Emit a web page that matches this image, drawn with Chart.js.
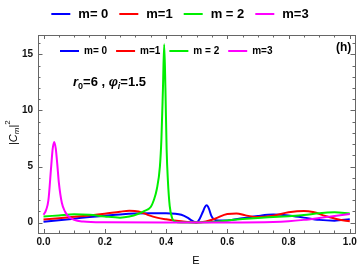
<!DOCTYPE html>
<html>
<head>
<meta charset="utf-8">
<script src="https://cdn.jsdelivr.net/npm/chart.js@4.4.1/dist/chart.umd.min.js"></script>
<style>
html,body{margin:0;padding:0;background:#fff;}
#wrap{width:360px;height:268px;}
</style>
</head>
<body>
<div id="wrap"><canvas id="c" width="360" height="268"></canvas></div>
<script>
// ---- data ----
const seriesNames = ['m= 0', 'm=1', 'm = 2', 'm=3'];
const seriesColors = ['#0000ff', '#ff0000', '#00ee00', '#ff00ff'];

const E0 = [0, 0.05, 0.1, 0.15, 0.2, 0.25, 0.3, 0.35, 0.4, 0.43, 0.45, 0.47, 0.485, 0.5, 0.51, 0.52, 0.527, 0.533, 0.54, 0.548, 0.556, 0.57, 0.6, 0.65, 0.7, 0.75, 0.8, 0.85, 0.9, 0.95, 1.0];
const V0 = [0.08, 0.22, 0.36, 0.5, 0.62, 0.74, 0.82, 0.84, 0.84, 0.8, 0.7, 0.45, 0.18, 0.02, 0.35, 0.95, 1.4, 1.55, 1.25, 0.6, 0.3, 0.2, 0.2, 0.4, 0.6, 0.72, 0.65, 0.45, 0.25, 0.18, 0.3];

const E1 = [0, 0.05, 0.1, 0.15, 0.2, 0.25, 0.28, 0.31, 0.34, 0.37, 0.4, 0.45, 0.5, 0.53, 0.56, 0.6, 0.63, 0.66, 0.7, 0.75, 0.8, 0.85, 0.88, 0.92, 0.96, 1.0];
const V1 = [0.28, 0.4, 0.52, 0.65, 0.8, 0.98, 1.06, 1.0, 0.7, 0.45, 0.3, 0.12, 0.02, 0.1, 0.35, 0.78, 0.82, 0.65, 0.5, 0.62, 0.92, 1.05, 0.95, 0.6, 0.3, 0.12];

const E2 = [0, 0.05, 0.1, 0.15, 0.2, 0.25, 0.28, 0.31, 0.33, 0.35, 0.36, 0.37, 0.38, 0.385, 0.39, 0.394, 0.398, 0.402, 0.406, 0.412, 0.42, 0.43, 0.45, 0.5, 0.55, 0.6, 0.65, 0.7, 0.75, 0.8, 0.85, 0.9, 0.95, 1.0];
const V2 = [0.55, 0.65, 0.75, 0.7, 0.55, 0.45, 0.55, 0.8, 1.05, 1.4, 2.0, 3.0, 5.0, 7.5, 12, 15.9, 12, 6.5, 3.8, 1.5, 0.4, 0.1, 0.02, 0.01, 0.05, 0.2, 0.32, 0.42, 0.5, 0.58, 0.68, 0.85, 0.92, 0.82];

const E3 = [0, 0.008, 0.016, 0.025, 0.03, 0.035, 0.04, 0.045, 0.05, 0.06, 0.07, 0.08, 0.1, 0.13, 0.2, 0.4, 0.6, 0.75, 0.8, 0.85, 0.9, 0.95, 1.0];
const V3 = [0.7, 1.1, 2.0, 5.0, 6.6, 7.2, 6.6, 5.2, 3.6, 1.75, 1.0, 0.6, 0.25, 0.1, 0.03, 0.01, 0.01, 0.05, 0.12, 0.25, 0.42, 0.6, 0.78];

const xTicks = [0, 0.2, 0.4, 0.6, 0.8, 1.0];
const yTicks = [0, 5, 10, 15];

const Es = [E0, E1, E2, E3];
const Vs = [V0, V1, V2, V3];

const datasets = seriesNames.map((name, i) => ({
  label: name,
  data: Es[i].map((e, k) => ({x: e, y: Vs[i][k]})),
  borderColor: seriesColors[i],
  backgroundColor: seriesColors[i],
  borderWidth: 2,
  pointRadius: 0,
  showLine: true,
  cubicInterpolationMode: 'monotone',
  order: 3 - i
}));

const FONT = '"Liberation Sans", Arial, sans-serif';

function drawLegend(ctx, x, y, fontPx, lineLen, gapLT, gapItem) {
  ctx.save();
  ctx.font = 'bold ' + fontPx + 'px ' + FONT;
  ctx.textBaseline = 'middle';
  ctx.textAlign = 'left';
  let cx = x;
  seriesNames.forEach((n, i) => {
    ctx.strokeStyle = seriesColors[i];
    ctx.lineWidth = 2;
    ctx.beginPath();
    ctx.moveTo(cx, y);
    ctx.lineTo(cx + lineLen, y);
    ctx.stroke();
    cx += lineLen + gapLT;
    ctx.fillStyle = '#000';
    ctx.fillText(n, cx, y + 0.5);
    cx += ctx.measureText(n).width + gapItem;
  });
  ctx.restore();
}

function legendWidth(ctx, fontPx, lineLen, gapLT, gapItem) {
  ctx.save();
  ctx.font = 'bold ' + fontPx + 'px ' + FONT;
  let w = 0;
  seriesNames.forEach((n, i) => {
    w += lineLen + gapLT + ctx.measureText(n).width;
    if (i < seriesNames.length - 1) w += gapItem;
  });
  ctx.restore();
  return w;
}

function drawParts(ctx, x, y, parts) {
  let cx = x;
  parts.forEach(p => {
    ctx.font = p.f;
    ctx.fillText(p.t, cx, y + (p.dy || 0));
    cx += ctx.measureText(p.t).width;
  });
}

const framePlugin = {
  id: 'framePlugin',
  afterDraw(chart) {
    const ctx = chart.ctx;
    const a = chart.chartArea;
    const xs = chart.scales.x, ys = chart.scales.y;
    ctx.save();
    // frame
    ctx.strokeStyle = '#666';
    ctx.lineWidth = 1;
    ctx.strokeRect(Math.round(a.left) + 0.5, Math.round(a.top) + 0.5, Math.round(a.right - a.left), Math.round(a.bottom - a.top));
    // ticks
    ctx.beginPath();
    for (let v = 0; v <= 1.0001; v += 0.05) {
      const px = Math.round(xs.getPixelForValue(v)) + 0.5;
      const major = Math.abs(v / 0.2 - Math.round(v / 0.2)) < 1e-6;
      const L = major ? 4 : 2.5;
      ctx.moveTo(px, a.bottom); ctx.lineTo(px, a.bottom - L);
      ctx.moveTo(px, a.top); ctx.lineTo(px, a.top + L);
    }
    for (let v = 0; v <= 16.5; v += 1) {
      const py = Math.round(ys.getPixelForValue(v)) + 0.5;
      const major = v % 5 === 0;
      const L = major ? 4.5 : 2.5;
      ctx.moveTo(a.left, py); ctx.lineTo(a.left + L, py);
      ctx.moveTo(a.right, py); ctx.lineTo(a.right - L, py);
    }
    ctx.stroke();

    // top legend
    const lw = legendWidth(ctx, 13, 19, 8, 11);
    drawLegend(ctx, 180 - lw / 2, 14, 13, 19, 8, 11);
    // inner legend
    drawLegend(ctx, 60, 51, 10, 19, 5, 9);

    // (h)
    ctx.fillStyle = '#000';
    ctx.font = 'bold 12px ' + FONT;
    ctx.textAlign = 'left';
    ctx.textBaseline = 'alphabetic';
    ctx.fillText('(h)', 336, 51);

    // annotation r0=6 , phi_i=1.5
    const B = 'bold 13px ' + FONT, BI = 'italic bold 13px ' + FONT;
    const S = 'bold 9px ' + FONT, SI = 'italic bold 9px ' + FONT;
    drawParts(ctx, 73, 86, [
      {t: 'r', f: BI}, {t: '0', f: S, dy: 3}, {t: '=6 , ', f: B},
      {t: 'φ', f: BI}, {t: 'i', f: SI, dy: 3}, {t: '=1.5', f: B}
    ]);

    // x title
    ctx.font = '11px ' + FONT;
    ctx.textAlign = 'center';
    ctx.fillText('E', 196, 264);

    // y title
    ctx.save();
    ctx.translate(17, 145);
    ctx.rotate(-Math.PI / 2);
    ctx.textAlign = 'left';
    const R = '11px ' + FONT, RI = 'italic 11px ' + FONT, SS = '8px ' + FONT, SSI = 'italic 8px ' + FONT;
    drawParts(ctx, 0, 0, [
      {t: '|', f: R}, {t: 'C', f: RI}, {t: 'm', f: SSI, dy: 2}, {t: '|', f: R}, {t: '2', f: SS, dy: -7}
    ]);
    ctx.restore();
    ctx.restore();
  }
};

new Chart(document.getElementById('c'), {
  type: 'scatter',
  data: {datasets},
  options: {
    responsive: false,
    animation: false,
    devicePixelRatio: 1,
    layout: {padding: {top: 35, right: 5, left: 0, bottom: 0}},
    plugins: {legend: {display: false}, tooltip: {enabled: false}},
    scales: {
      x: {
        type: 'linear', min: -0.018, max: 1.017,
        grid: {display: false, drawTicks: false}, border: {display: false},
        afterBuildTicks: s => { s.ticks = xTicks.map(v => ({value: v})); },
        afterFit: s => { s.height = 35; },
        ticks: {
          color: '#111', padding: 3, maxRotation: 0, autoSkip: false,
          font: {family: FONT, size: 10, weight: 'bold'},
          callback: v => Number(v).toFixed(1)
        }
      },
      y: {
        type: 'linear', min: -0.92, max: 16.73,
        grid: {display: false, drawTicks: false}, border: {display: false},
        afterBuildTicks: s => { s.ticks = yTicks.map(v => ({value: v})); },
        afterFit: s => { s.width = 38; },
        ticks: {
          color: '#111', padding: 5, autoSkip: false,
          font: {family: FONT, size: 10, weight: 'bold'},
          callback: v => String(v)
        }
      }
    }
  },
  plugins: [framePlugin]
});
</script>
</body>
</html>
